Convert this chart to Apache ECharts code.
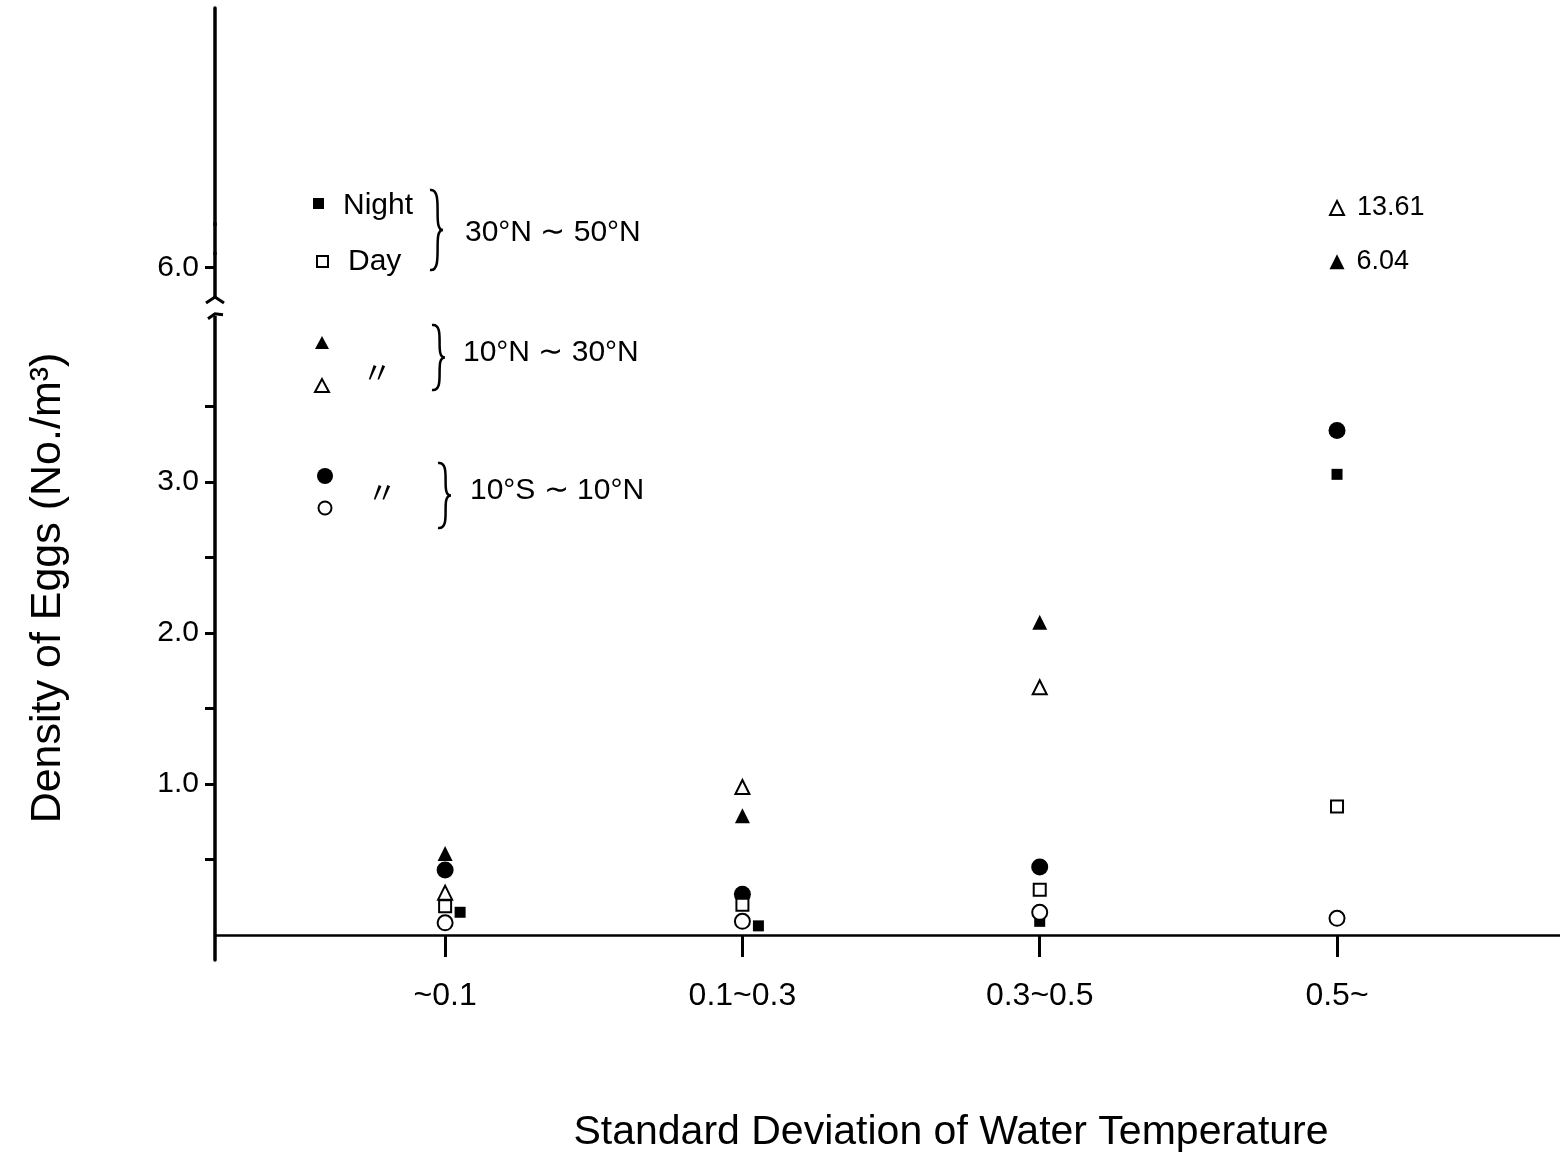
<!DOCTYPE html>
<html lang="en">
<head>
<meta charset="UTF-8">
<title>Density of Eggs</title>
<script src="https://cdn.jsdelivr.net/npm/echarts@6/dist/echarts.min.js"></script>
<style>
    html, body { margin: 0; padding: 0; background: #fff; }
    #chart { width: 1560px; height: 1157px; }
</style>
</head>
<body>
<div id="chart"></div>
<script>
// categories on the x axis (standard deviation of water temperature)
var categories = ['~0.1', '0.1~0.3', '0.3~0.5', '0.5~'];
var yLabelValues = [1.0, 2.0, 3.0, 6.0];
var yTickValues = [0.5, 1.0, 1.5, 2.0, 2.5, 3.0, 3.5, 6.0];

// density of eggs (No./m3), one value per category
var night30N50N = [0.15, 0.06, 0.09, 3.05];
var day30N50N = [0.19, 0.20, 0.30, 0.85];
var night10N30N = [0.54, 0.79, 2.07, 6.04];
var day10N30N = [0.28, 0.98, 1.64, 13.61];
var night10S10N = [0.43, 0.27, 0.45, 3.34];
var day10S10N = [0.08, 0.09, 0.15, 0.11];

var FONT = "'Liberation Sans', Arial, sans-serif";
var chart = echarts.init(document.getElementById('chart'));

function points(vals) {
    return vals.map(function (v, i) {
        var item = {value: [i + 1, v]};
        // values off the scale get their number written beside them
        if (v > 6) {
            item.label = {
                show: true, position: 'right', distance: 12,
                formatter: v.toFixed(2), fontSize: 27, color: '#000', fontFamily: FONT
            };
        }
        return item;
    });
}

var filled = {color: '#000', opacity: 1};
var hollow = {color: '#fff', borderColor: '#000', borderWidth: 2, opacity: 1};

function brace(x, y1, y2, w) {
    var mid = (y1 + y2) / 2;
    var st = {stroke: '#000', lineWidth: 2.5, fill: 'none'};
    return [
        {type: 'bezierCurve', shape: {x1: x, y1: y1, cpx1: x + w * 1.8, cpy1: y1 - 2, cpx2: x + w * 0.2, cpy2: mid, x2: x + w * 1.6, y2: mid}, style: st},
        {type: 'bezierCurve', shape: {x1: x + w * 1.6, y1: mid, cpx1: x + w * 0.2, cpy1: mid, cpx2: x + w * 1.8, cpy2: y2 + 2, x2: x, y2: y2}, style: st}
    ];
}

function txt(s, x, y, size, extra) {
    var o = {type: 'text', x: x, y: y, style: {text: s, fill: '#000', font: size + 'px ' + FONT, textVerticalAlign: 'middle'}};
    if (extra) { for (var k in extra) o.style[k] = extra[k]; }
    return o;
}

var legendEls = [
    {type: 'rect', shape: {x: 313, y: 198, width: 11, height: 11}, style: {fill: '#000'}},
    txt('Night', 343, 206, 30),
    {type: 'rect', shape: {x: 317, y: 256, width: 11, height: 11}, style: {fill: '#fff', stroke: '#000', lineWidth: 2}},
    txt('Day', 348, 262, 30),
    txt('30°N ∼ 50°N', 465, 233, 30),
    {type: 'polygon', shape: {points: [[322, 336], [315, 349], [329, 349]]}, style: {fill: '#000'}},
    {type: 'polygon', shape: {points: [[322, 379], [315, 392], [329, 392]]}, style: {fill: '#fff', stroke: '#000', lineWidth: 2}},
    txt('〃', 362, 372, 30, {font: "30px 'Noto Sans CJK JP'"}),
    txt('10°N ∼ 30°N', 463, 353, 30),
    {type: 'circle', shape: {cx: 325, cy: 476, r: 8}, style: {fill: '#000'}},
    {type: 'circle', shape: {cx: 325, cy: 508, r: 6.5}, style: {fill: '#fff', stroke: '#000', lineWidth: 2}},
    txt('〃', 367, 492, 30, {font: "30px 'Noto Sans CJK JP'"}),
    txt('10°S ∼ 10°N', 470, 491, 30),
    txt('Density of Eggs (No./m³)', 48, 588, 43, {textAlign: 'center'}),
    txt('Standard Deviation of Water Temperature', 951, 1133, 41, {textAlign: 'center'})
].concat(brace(430, 190, 270, 8), brace(432, 325, 390, 8), brace(438, 463, 528, 8));

// the vertical title is rotated
legendEls[13].rotation = Math.PI / 2;

var option = {
    backgroundColor: '#fff',
    animation: false,
    grid: {left: 215, right: 0, top: 8, bottom: 197, outerBoundsMode: 'none'},
    xAxis: {
        type: 'value', min: 0.226, max: 4.75,
        axisLine: {show: true, onZero: true, lineStyle: {color: '#000', width: 2.5}},
        axisTick: {show: true, customValues: [1, 2, 3, 4], length: 22, lineStyle: {color: '#000', width: 3}},
        axisLabel: {
            customValues: [1, 2, 3, 4], margin: 20, fontSize: 32, color: '#000', fontFamily: FONT,
            formatter: function (v) { return categories[Math.round(v) - 1]; }
        },
        splitLine: {show: false}
    },
    yAxis: {
        type: 'value', min: -0.166, max: 14.934,
        breaks: [
            {start: 4.1, end: 5.8, gap: 0.118},
            {start: 6.1, end: 13.5, gap: 0.186}
        ],
        breakArea: {show: false},
        axisLine: {show: true, onZero: false, lineStyle: {color: '#000', width: 3.5}},
        axisTick: {show: true, customValues: yTickValues, length: 10, lineStyle: {color: '#000', width: 3}},
        axisLabel: {
            customValues: yLabelValues, margin: 16, fontSize: 30, color: '#000', fontFamily: FONT,
            formatter: function (v) { return v.toFixed(1); }
        },
        splitLine: {show: false}
    },
    graphic: {elements: legendEls},
    series: [
        {name: 'Night 30°N~50°N', type: 'scatter', symbol: 'rect', symbolSize: 11, itemStyle: filled, data: points(night30N50N), z: 3},
        {name: 'Day 30°N~50°N', type: 'scatter', symbol: 'rect', symbolSize: 12, itemStyle: hollow, data: points(day30N50N), z: 4},
        {name: 'Night 10°N~30°N', type: 'scatter', symbol: 'triangle', symbolSize: 15, itemStyle: filled, data: points(night10N30N)},
        {name: 'Day 10°N~30°N', type: 'scatter', symbol: 'triangle', symbolSize: 14, itemStyle: hollow, data: points(day10N30N)},
        {name: 'Night 10°S~10°N', type: 'scatter', symbol: 'circle', symbolSize: 17, itemStyle: filled, data: points(night10S10N)},
        {name: 'Day 10°S~10°N', type: 'scatter', symbol: 'circle', symbolSize: 15, itemStyle: hollow, data: points(day10S10N), z: 5}
    ]
};
// the night squares of the first two groups sit beside the stack
var nightShift = [15, 16, 0, 0];
option.series[0].data.forEach(function (d, i) { d.symbolOffset = [nightShift[i], 0]; });

chart.setOption(option);

// mark the drawn axis break, and close the line over the upper (hidden) break
var ax = chart.convertToPixel({xAxisIndex: 0}, 0.226);
var yLo = chart.convertToPixel({yAxisIndex: 0}, 4.1);
var yHi = chart.convertToPixel({yAxisIndex: 0}, 5.8);
var y2Lo = chart.convertToPixel({yAxisIndex: 0}, 6.1);
var y2Hi = chart.convertToPixel({yAxisIndex: 0}, 13.5);
chart.setOption({
    graphic: {
        elements: [
            {id: 'brkGap', type: 'rect', shape: {x: ax - 6, y: yHi, width: 12, height: yLo - yHi}, style: {fill: '#fff'}, z: 50},
            {id: 'brkTop', type: 'polyline', shape: {points: [[ax - 9, yHi + 5], [ax, yHi - 1], [ax + 9, yHi + 5]]}, style: {stroke: '#000', lineWidth: 3, fill: 'none'}, z: 51},
            {id: 'brkBot', type: 'polyline', shape: {points: [[ax - 7, yLo + 3], [ax, yLo - 2], [ax + 8, yLo - 1]]}, style: {stroke: '#000', lineWidth: 3, fill: 'none'}, z: 51},
            {id: 'brkFill', type: 'line', shape: {x1: ax, y1: y2Lo + 2, x2: ax, y2: y2Hi - 2}, style: {stroke: '#000', lineWidth: 3.5}, z: 51}
        ]
    }
});
</script>
</body>
</html>
